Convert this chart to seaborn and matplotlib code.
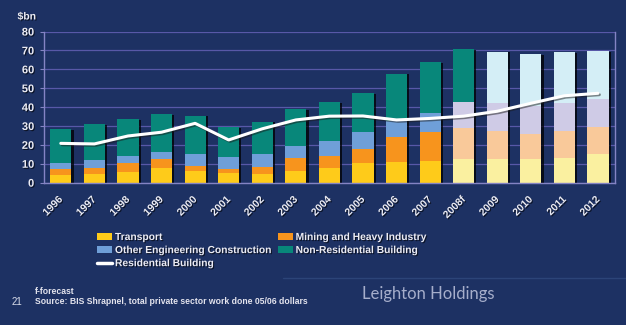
import numpy as np
import pandas as pd
import matplotlib
matplotlib.use("Agg")
import matplotlib.pyplot as plt
import matplotlib.patheffects as pe
from matplotlib.patches import Patch
from matplotlib.lines import Line2D
import seaborn as sns

# Private sector construction work done, $bn (05/06 dollars)
years = ["1996", "1997", "1998", "1999", "2000", "2001", "2002", "2003", "2004",
         "2005", "2006", "2007", "2008f", "2009", "2010", "2011", "2012"]
transport = [4.0, 4.8, 5.8, 7.6, 6.3, 5.2, 4.6, 6.2, 7.9,
             10.6, 11.1, 11.7, 12.7, 12.7, 12.3, 13.2, 15.2]
mining = [3.0, 3.0, 4.8, 4.8, 2.5, 1.9, 3.9, 7.0, 6.2,
          7.3, 13.0, 15.1, 16.0, 14.8, 13.5, 14.2, 14.4]
other_eng = [3.6, 4.2, 3.5, 3.7, 6.4, 6.3, 6.5, 6.2, 8.0,
             8.9, 8.7, 10.2, 13.8, 14.5, 14.9, 14.9, 14.7]
non_res = [17.7, 19.0, 19.6, 20.1, 20.2, 15.9, 17.3, 19.4, 20.6,
           20.5, 24.9, 26.7, 28.2, 27.3, 27.2, 26.7, 25.4]
residential = [20.8, 20.5, 24.7, 26.7, 31.4, 22.6, 28.5, 33.2, 35.2,
               35.3, 33.2, 34.0, 35.2, 37.8, 42.0, 46.0, 47.3]

legend_labels = ["Transport", "Mining and Heavy Industry",
                 "Other Engineering Construction", "Non-Residential Building",
                 "Residential Building"]

BG = "#1d3163"
GRID = "#5858a8"
SPINE = "#8484c4"
TXT = "#ececf4"

sns.set_theme(style="dark")
plt.rcParams["font.family"] = ["Liberation Sans", "DejaVu Sans"]

df = pd.DataFrame({"year": years, "transport": transport, "mining": mining,
                   "other": other_eng, "nonres": non_res})
stack = df[["transport", "mining", "other", "nonres"]].cumsum(axis=1)

fig = plt.figure(figsize=(6.26, 3.25), dpi=100, facecolor=BG)
ax = fig.add_axes([0.0703, 0.438, 0.9117, 0.465])
ax.set_facecolor(BG)

# (column, actual colour, forecast colour, first index drawn as forecast)
layers = [
    ("nonres", "#08877a", "#d4eef6", 13),
    ("other", "#6f9fd8", "#cfcbe6", 12),
    ("mining", "#f7941d", "#f9c99a", 12),
    ("transport", "#fecb1a", "#faf0a0", 12),
]
shadow = [pe.SimplePatchShadow(offset=(1.6, -0.4), shadow_rgbFace="black", alpha=0.75),
          pe.Normal()]
for i, (col, c_act, c_fc, start) in enumerate(layers):
    pal = {y: (c_fc if k >= start else c_act) for k, y in enumerate(years)}
    n_before = len(ax.patches)
    sns.barplot(x=years, y=stack[col].values, hue=years, palette=pal,
                order=years, hue_order=years, dodge=False, width=0.63,
                saturation=1, legend=False, linewidth=0, ax=ax)
    if i == 0:
        for p in ax.patches[n_before:]:
            p.set_path_effects(shadow)

sns.pointplot(x=years, y=residential, order=years, color="white", markers="",
              linestyles="-", errorbar=None, linewidth=2.2, ax=ax,
              path_effects=[pe.SimpleLineShadow(offset=(1, -1), alpha=0.5),
                            pe.Normal()])

ax.set_xlim(-0.5, len(years) - 0.5)
ax.set_ylim(0, 80)
ax.set_yticks(np.arange(0, 81, 10))
ax.set_xlabel("")
ax.set_ylabel("")
ax.yaxis.grid(True, color=GRID, lw=0.9)
ax.xaxis.grid(False)
ax.set_axisbelow(True)
for s in ["left", "bottom", "right"]:
    ax.spines[s].set_visible(True)
    ax.spines[s].set_color(SPINE)
    ax.spines[s].set_linewidth(1)
ax.spines["top"].set_visible(False)

txt_shadow = [pe.withSimplePatchShadow(offset=(0.8, -0.8), shadow_rgbFace="black", alpha=0.6)]

ax.set_xticks(np.arange(len(years)))
ax.set_xticks(np.arange(-0.5, len(years)), minor=True)
ax.tick_params(axis="x", which="major", length=0, pad=11)
ax.tick_params(axis="x", which="minor", length=3, color=SPINE, width=0.8, direction="out")
ax.set_xticklabels(years, rotation=45, ha="right", va="center", rotation_mode="anchor",
                   fontsize=7.5, fontweight="bold", color=TXT)
ax.tick_params(axis="y", length=3, color=SPINE, width=0.8, pad=4, left=True)
for lab in ax.get_yticklabels():
    lab.set_fontsize(8)
    lab.set_fontweight("bold")
    lab.set_color(TXT)
for lab in ax.get_xticklabels() + ax.get_yticklabels():
    lab.set_path_effects(txt_shadow)

fig.text(0.028, 1 - 16.5 / 325, "\\$bn", ha="left", va="center", fontsize=7.5,
         fontweight="bold", color=TXT, path_effects=txt_shadow)

# legend: first column Transport / Other Eng / Residential, second column the rest
handles = [
    Patch(facecolor="#fecb1a", edgecolor="none"),
    Patch(facecolor="#6f9fd8", edgecolor="none"),
    Line2D([], [], color="white", lw=2.5),
    Patch(facecolor="#f7941d", edgecolor="none"),
    Patch(facecolor="#08877a", edgecolor="none"),
]
labels = [legend_labels[0], legend_labels[2], legend_labels[4],
          legend_labels[1], legend_labels[3]]
leg = fig.legend(handles, labels, ncol=2, loc="upper left",
                 bbox_to_anchor=(97 / 626, 1 - 232 / 325), frameon=False,
                 borderpad=0, borderaxespad=0, handlelength=1.45, handleheight=0.6,
                 handletextpad=0.3, columnspacing=0.5, labelspacing=0.3,
                 prop={"size": 7.4, "weight": "bold"})
for t in leg.get_texts():
    t.set_color(TXT)
    t.set_path_effects(txt_shadow)

# footer
fig.add_artist(Line2D([283 / 626, 1.0], [1 - 278 / 325, 1 - 278 / 325],
                      color="#2c4478", lw=1))
foot = dict(fontsize=6.2, fontweight="bold", color="#e4e4ee",
            family=["Liberation Sans Narrow", "Liberation Sans", "DejaVu Sans"])
fig.text(35 / 626, 1 - 291.5 / 325, "f-forecast", ha="left", va="center", **foot)
fig.text(35 / 626, 1 - 302 / 325,
         "Source: BIS Shrapnel, total private sector work done 05/06 dollars",
         ha="left", va="center", **foot)
fig.text(12 / 626, 1 - 302 / 325, "21", ha="left", va="center", fontsize=7,
         color="#d8dcea")
fig.text(362 / 626, 1 - 294 / 325, "Leighton Holdings", ha="left", va="center",
         fontsize=12, color="#a6aecb", family=["Lato", "DejaVu Sans"])

fig.savefig("out.png", dpi=100, facecolor=BG)
